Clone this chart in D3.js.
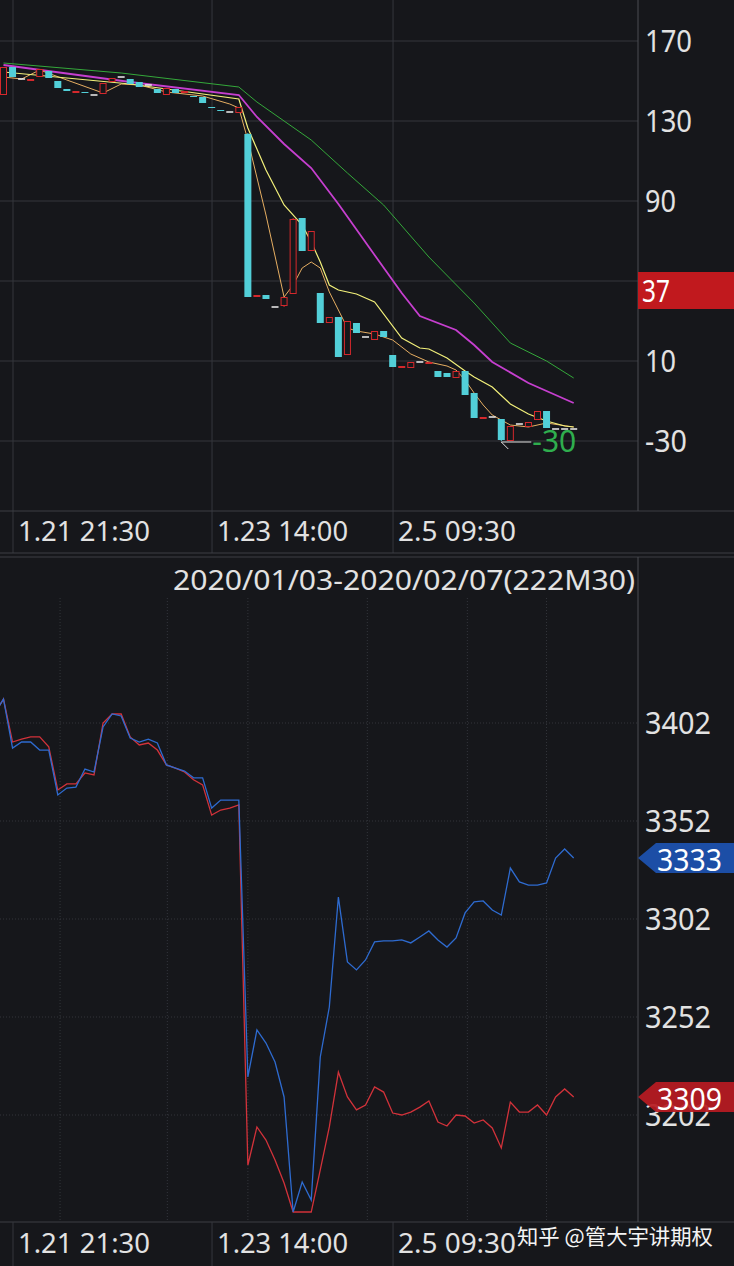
<!DOCTYPE html>
<html><head><meta charset="utf-8">
<script src="https://cdn.jsdelivr.net/npm/d3@7"></script>
<style>html,body{margin:0;padding:0;background:#16171b;}svg{display:block}</style>
</head><body><svg id="c" width="734" height="1266"></svg>
<script>
// ---------- DATA ----------
const candleOpen  = [143,157,151,150.5,152,155,150,146,144.5,144.5,143,143.5,149.5,152,151,149.5,148,146,143,146,144,142.5,142,137,135.5,134.5,134,123.5,42.5,43,37,37.5,43.5,81.5,65,44,29,32,13,29,22,20.5,25,13,7,6.5,9.5,9,5,4,1.5,5,-6,-18.5,-18,-19,-30,-21.5,-23,-19.5,-15,-24,-24,-24];
const candleClose = [157,152,151,151,156,151.5,146.5,145,145,144,143,149,151.5,152,148.5,147,148,144,146.5,144,145,142,139,136.5,135,134.5,137,42,43,41,37,42,81,65,75,29,32,12,30,24,22,25,22,7,7.5,9.5,9.5,9.5,2,2,5,-7,-18.5,-18,-18,-29.5,-22.5,-21.5,-20.5,-15,-23.5,-24,-24,-24];
const candleHigh  = [157,157,151,151,156,155,150,146,145,144.5,143,149,151.5,152,151,149.5,148,146,146.5,146,145,142.5,142,137,135.5,134.5,137,124,43,43,37,42,81.5,81.5,75,44,32,32,30,29,22,25,25,13,7.5,9.5,9.5,9.5,5,4,5,5,-6,-18,-18,-19,-22.5,-21.5,-20.5,-15,-15,-24,-24,-24];
const candleLow   = [143,152,151,150.5,152,151.5,146.5,145,144.5,144,143,143.5,149.5,152,148.5,147,148,144,143,144,144,142,139,136.5,135,134.5,134,42,42.5,41,37,37,43.5,65,65,29,29,12,13,24,22,20.5,22,7,7,6.5,9.5,9,2,2,1.5,-7,-18.5,-18.5,-18,-30,-30,-21.5,-23,-19.5,-23.5,-24,-24,-24];

// moving-average lines: [candle index, value]
const maGreen   = [[0,159],[13,154],[26,147],[28,139.5],[34,120.5],[38,104],[42,88],[47,62],[52,39],[56,19],[60,10],[63,1.5]];
const maMagenta = [[0,158],[14,149.5],[26,143],[28,132],[31,118.5],[34,106.5],[37,88.5],[41,63],[44,44],[46,32.5],[50,25.5],[52,18],[54,9.5],[58,-1],[63,-11]];
const maYellow  = [[0,154.5],[14,148.5],[26,141],[27,126.5],[29,105.5],[31,88],[33,78],[34,69.5],[35,59.5],[36,48],[37,45.5],[39,43.5],[41,39.5],[44,21.5],[46,16.5],[47,16],[49,11.5],[51,5],[52,2],[54,-3],[56,-11.5],[58,-16.5],[60,-20],[62,-22.5],[63,-23]];
const maOrange  = [[0,152],[2,151],[4,155.5],[7,150.5],[11,144],[13,148.5],[15,148],[18,144.5],[22,142.5],[25,138.5],[26,136.5],[27,120.5],[29,83],[31,42],[32,48],[33,56.5],[34,59.5],[35,56.5],[36,44.5],[37,35.5],[38,26.5],[39,25],[41,23.5],[43,20.5],[45,13.5],[47,9.5],[49,7.5],[50,5.5],[51,0.5],[52,-6],[53,-12],[54,-17],[56,-22],[58,-23],[60,-21],[63,-23]];

// bottom lines start one bar before the first candle (index -1)
const blueLine = [3406.6,3414.2,3389.2,3392.3,3392.3,3388.2,3388.2,3365.3,3368.8,3369.3,3378.5,3377,3400,3406.6,3405.6,3394.3,3392.3,3393.8,3391.8,3380.6,3379,3377.5,3374,3374,3358.6,3362.7,3362.7,3362.7,3221.4,3245.4,3238.7,3229,3211.2,3152.5,3167.8,3158.6,3231.6,3257.1,3313.2,3280.1,3276,3281.1,3290.3,3290.8,3290.8,3291.3,3289.8,3292.8,3295.9,3291.3,3287.7,3292.3,3305.1,3310.7,3311.2,3306.6,3304,3328,3320.9,3319.3,3319.3,3320.4,3333.1,3337.7,3333.1];
const redLine  = [3406.6,3414.2,3392.3,3393.8,3394.9,3394.9,3389.8,3367.8,3370.9,3370.9,3376.5,3375.5,3402,3406.6,3406.6,3394.9,3390.8,3391.8,3388.2,3380.6,3379,3377,3373,3370.4,3355,3357.6,3358.6,3360.2,3176.5,3195.9,3189.2,3179,3167.3,3152.5,3152.5,3152.5,3174,3195.9,3223.9,3211.2,3204.6,3207.1,3216.3,3213.7,3203,3202,3203.5,3206,3209.1,3198.4,3196.4,3202,3201.5,3197.9,3199.5,3195.4,3185.2,3208.6,3203.5,3203.5,3207.1,3202,3211.2,3215.3,3211.2];

const topTicks = [170,130,90,50,10,-30];
const topTicksShown = [170,130,90,10,-30]; // 50 is hidden under the "37" tag
const botTicks = [3402,3352,3302,3252,3202];
const timeLabels = ["1.21 21:30","1.23 14:00","2.5 09:30"];
const timeLabelIdx = [1.05,23.04,43.04];
const dayBoundIdx = [6.25,18.1,27,40.2,51.25,60];
const titleText = "2020/01/03-2020/02/07(222M30)";
const topTag = "37", blueTag = "3333", redTag = "3309", lowTag = "-30", lowIdx = 55;
const watermark = "知乎 @管大宇讲期权";

// ---------- LAYOUT ----------
const W = 734, H = 1266, axisX = 638;
const bg = "#16171b", grid = "#35373d", axisCol = "#4a4c52", txt = "#e2e2e2";
const svg = d3.select("#c");
svg.append("rect").attr("width", W).attr("height", H).attr("fill", bg);

const x = d3.scaleLinear().domain([0, 63]).range([3.5, 573.7]);
const yTop = d3.scaleLinear().domain([-30, 170]).range([441, 41]);
const yBot = d3.scaleLinear().domain([3202, 3402]).range([1115, 723]);

function label(t, px, cy, fs, w, col, opts = {}) {
  const el = svg.append("text").text(t)
    .attr("x", px).attr("y", cy + fs * 0.36)
    .attr("font-family", opts.family || "'Noto Sans', 'Open Sans', sans-serif")
    .attr("font-size", fs).attr("fill", col);
  if (w) el.attr("textLength", w).attr("lengthAdjust", "spacingAndGlyphs");
  return el;
}

// ---- top panel grid ----
const gTop = svg.append("g");
topTicks.forEach(v => gTop.append("line").attr("x1", 0).attr("x2", axisX)
  .attr("y1", yTop(v)).attr("y2", yTop(v)).attr("stroke", grid).attr("stroke-width", 1));
timeLabelIdx.forEach(i => gTop.append("line").attr("x1", x(i)).attr("x2", x(i))
  .attr("y1", 0).attr("y2", 553).attr("stroke", grid));
[511, 553, 557, 1222].forEach(yy => svg.append("line").attr("x1", 0).attr("x2", W)
  .attr("y1", yy).attr("y2", yy).attr("stroke", "#3c3e44"));
svg.append("line").attr("x1", axisX).attr("x2", axisX).attr("y1", 0).attr("y2", 511).attr("stroke", axisCol);
svg.append("line").attr("x1", axisX).attr("x2", axisX).attr("y1", 557).attr("y2", 1222).attr("stroke", axisCol);

// ---- bottom panel grid (dotted) ----
botTicks.forEach(v => svg.append("line").attr("x1", 0).attr("x2", axisX)
  .attr("y1", yBot(v)).attr("y2", yBot(v)).attr("stroke", "#33353b").attr("stroke-dasharray", "1,2"));
dayBoundIdx.forEach(i => svg.append("line").attr("x1", x(i)).attr("x2", x(i))
  .attr("y1", 598).attr("y2", 1222).attr("stroke", "#33353b").attr("stroke-dasharray", "1,2"));
timeLabelIdx.forEach(i => svg.append("line").attr("x1", x(i)).attr("x2", x(i))
  .attr("y1", 1222).attr("y2", H).attr("stroke", grid));

// ---- MA lines ----
svg.append("clipPath").attr("id", "ct").append("rect").attr("x", 0).attr("y", 0).attr("width", axisX).attr("height", 511);
const maLine = d3.line().x(d => x(d[0])).y(d => yTop(d[1]));
const gMA = svg.append("g").attr("clip-path", "url(#ct)");
[[maGreen, "#34a83a", 1], [maMagenta, "#c63fcf", 1.8], [maOrange, "#e6ae62", 1], [maYellow, "#f2f07a", 1.2]]
  .forEach(([d, c, w]) => gMA.append("path").attr("d", maLine(d)).attr("fill", "none")
    .attr("stroke", c).attr("stroke-width", w));

// ---- candles ----
const up = "#d4282c", down = "#52cfd8", bw = 7;
const gC = svg.append("g");
candleOpen.forEach((o, i) => {
  const c = candleClose[i], cx = x(i);
  const col = c > o ? up : (c < o ? down : "#f0f0f0");
  gC.append("line").attr("x1", cx).attr("x2", cx)
    .attr("y1", yTop(candleHigh[i])).attr("y2", yTop(candleLow[i])).attr("stroke", col);
  if (c === o) {
    gC.append("line").attr("x1", cx - bw / 2).attr("x2", cx + bw / 2)
      .attr("y1", yTop(o)).attr("y2", yTop(o)).attr("stroke", col).attr("stroke-width", 1.5);
  } else {
    const top = yTop(Math.max(o, c)), h = Math.max(1, yTop(Math.min(o, c)) - top);
    if (c > o) gC.append("rect").attr("x", cx - bw / 2 + 0.5).attr("y", top + 0.5)
      .attr("width", bw - 1).attr("height", Math.max(1, h - 1)).attr("fill", bg).attr("stroke", col);
    else gC.append("rect").attr("x", cx - bw / 2).attr("y", top)
      .attr("width", bw).attr("height", h).attr("fill", col);
  }
});
// low marker
const lx = x(lowIdx), ly = yTop(d3.min(candleLow));
svg.append("line").attr("x1", lx).attr("x2", lx + 30).attr("y1", ly + 1).attr("y2", ly + 1).attr("stroke", "#e0e0e0");
svg.append("line").attr("x1", lx).attr("x2", lx + 7).attr("y1", ly + 1).attr("y2", ly + 8).attr("stroke", "#e0e0e0");
label(lowTag, lx + 31, ly, 30, 44, "#2fae4e");

// ---- bottom lines ----
svg.append("clipPath").attr("id", "cb").append("rect").attr("x", 0).attr("y", 598).attr("width", axisX).attr("height", 624);
const bl = d3.line().x((d, i) => x(i - 1)).y(d => yBot(d));
const gB = svg.append("g").attr("clip-path", "url(#cb)");
gB.append("path").attr("d", bl(redLine)).attr("fill", "none").attr("stroke", "#d2323a").attr("stroke-width", 1.3);
gB.append("path").attr("d", bl(blueLine)).attr("fill", "none").attr("stroke", "#2e6bd0").attr("stroke-width", 1.3);

// ---- axis labels ----
topTicksShown.forEach(v => label(String(v), 645, yTop(v), 31, String(v).length === 3 ? (v < 0 ? 42 : 47) : 31, txt));
botTicks.forEach(v => label(String(v), 645, yBot(v), 31, 66, txt));
timeLabels.forEach((t, k) => {
  const w = [132, 131, 118][k];
  label(t, x(timeLabelIdx[k]) + 5, 531, 28, w, txt);
  label(t, x(timeLabelIdx[k]) + 5, 1243, 28, w, txt);
});
label(titleText, 173, 580, 28, 462, txt);

// ---- tags ----
svg.append("rect").attr("x", 638).attr("y", 272).attr("width", 96).attr("height", 37).attr("fill", "#c1191e");
label(topTag, 642, 291, 30, 28, "#fff");
svg.append("path").attr("d", `M638,858 L656,843 L734,843 L734,873 L656,873 Z`).attr("fill", "#1c4ea6");
label(blueTag, 657, 860, 30, 65, "#fff");
svg.append("path").attr("d", `M638,1097 L656,1082 L734,1082 L734,1112 L656,1112 Z`).attr("fill", "#b81b21").attr("opacity", 0.93);
label(redTag, 657, 1099, 30, 65, "#fff");

// watermark
label(watermark, 517, 1236, 21, 196, "#f4f4f4", {family: "'Noto Sans CJK SC', sans-serif"});
</script></body></html>
